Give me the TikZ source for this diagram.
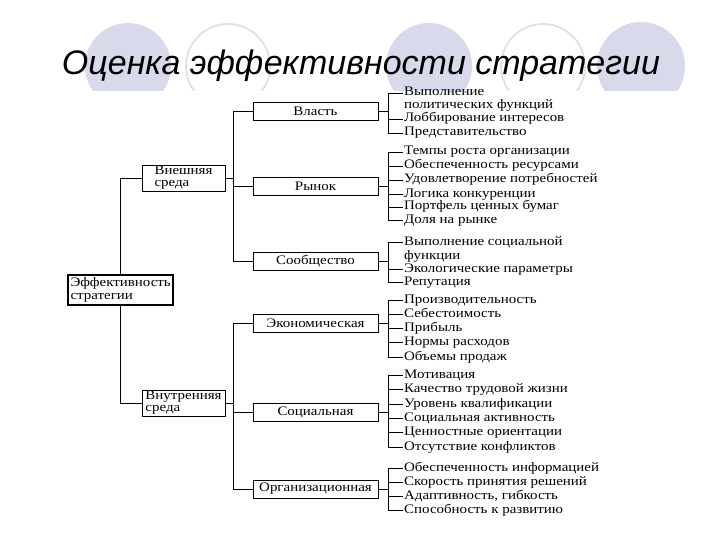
\documentclass[tikz,border=0pt]{standalone}
\usepackage{fontspec}
\setmainfont{Liberation Serif}
\newfontfamily\titlefont{Liberation Sans}
\newfontfamily\diagfont{Liberation Serif}[FakeStretch=1.15]
\usetikzlibrary{positioning}
\definecolor{circlefill}{RGB}{217,217,236}
\definecolor{circleline}{RGB}{222,222,238}

\begin{document}
\begin{tikzpicture}[x=1pt, y=-1pt, inner sep=1pt]
    \tikzstyle{rootbox} = [draw, line width=1.4pt, text width=100pt, align=left, minimum height=30pt, inner sep=2.5pt, font=\diagfont\fontsize{13}{12.5}\selectfont]
    \tikzstyle{sidebox} = [draw, line width=0.8pt, minimum width=83pt, minimum height=26pt, align=left, font=\diagfont\fontsize{13}{12}\selectfont]
    \tikzstyle{midbox}  = [draw, line width=0.8pt, minimum width=125pt, minimum height=18pt, font=\diagfont\fontsize{13}{13}\selectfont]
    \tikzstyle{item}    = [anchor=west, text height=8.5pt, text depth=2.5pt, font=\diagfont\fontsize{13}{13}\selectfont]
    \tikzstyle{link}    = [line width=0.8pt]

    \useasboundingbox (0,0) rectangle (720,540);

    % background circles
    \begin{scope}
        \clip (0,0) rectangle (720,91);
        \fill [circlefill] (128,66) circle (43);
        \draw [circleline, line width=1.8pt] (228,66) circle (42);
        \fill [circlefill] (429,66) circle (43);
        \draw [circleline, line width=1.8pt] (543,66) circle (42);
        \fill [circlefill] (641,66) circle (44);
    \end{scope}

    \node [anchor=base, font=\titlefont\itshape\fontsize{34}{34}\selectfont] (title) at (361,75) {Оценка эффективности стратегии};

    % tree
    \node [rootbox] (root) at (120.5,290) {Эффективность\\стратегии};
    \node [sidebox] (ext) at (183.5,178) {Внешняя\\среда};
    \node [sidebox] (int) at (183.5,403) {Внутренняя\\среда};

    \node [midbox] (vlast) at (315.5,111) {Власть};
    \node [midbox] (rynok) at (315.5,186) {Рынок};
    \node [midbox] (soob)  at (315.5,261) {Сообщество};
    \node [midbox] (econ)  at (315.5,323) {Экономическая};
    \node [midbox] (soc)   at (315.5,412) {Социальная};
    \node [midbox] (org)   at (315.5,489) {Организационная};

    \coordinate (eb) at (233,178);
    \coordinate (ib) at (233,403);
    \coordinate (b1) at (388,111);
    \coordinate (b2) at (388,186);
    \coordinate (b3) at (388,261);
    \coordinate (b4) at (388,323);
    \coordinate (b5) at (388,412);
    \coordinate (b6) at (388,489);

    % criteria
    \node [item] (v1) at (403,93)  {Выполнение};
    \node [item] (v1b) at (403,106) {политических функций};
    \node [item] (v2) at (403,119) {Лоббирование интересов};
    \node [item] (v3) at (403,133) {Представительство};

    \node [item] (r1) at (403,152) {Темпы роста организации};
    \node [item] (r2) at (403,166) {Обеспеченность ресурсами};
    \node [item] (r3) at (403,180) {Удовлетворение потребностей};
    \node [item] (r4) at (403,194) {Логика конкуренции};
    \node [item] (r5) at (403,207) {Портфель ценных бумаг};
    \node [item] (r6) at (403,220) {Доля на рынке};

    \node [item] (s1) at (403,242) {Выполнение социальной};
    \node [item] (s1b) at (403,256) {функции};
    \node [item] (s2) at (403,269) {Экологические параметры};
    \node [item] (s3) at (403,282) {Репутация};

    \node [item] (e1) at (403,300) {Производительность};
    \node [item] (e2) at (403,314) {Себестоимость};
    \node [item] (e3) at (403,328) {Прибыль};
    \node [item] (e4) at (403,342) {Нормы расходов};
    \node [item] (e5) at (403,357) {Объемы продаж};

    \node [item] (c1) at (403,375) {Мотивация};
    \node [item] (c2) at (403,389) {Качество трудовой жизни};
    \node [item] (c3) at (403,404) {Уровень квалификации};
    \node [item] (c4) at (403,418) {Социальная активность};
    \node [item] (c5) at (403,432) {Ценностные ориентации};
    \node [item] (c6) at (403,447) {Отсутствие конфликтов};

    \node [item] (o1) at (403,468) {Обеспеченность информацией};
    \node [item] (o2) at (403,482) {Скорость принятия решений};
    \node [item] (o3) at (403,496) {Адаптивность, гибкость};
    \node [item] (o4) at (403,510) {Способность к развитию};

    % connectors
    \draw [link] (root.north) |- (ext.west);
    \draw [link] (root.south) |- (int.west);

    \draw [link] (ext.east) -- (eb);
    \draw [link] (eb) |- (vlast.west);
    \draw [link] (eb) |- (rynok.west);
    \draw [link] (eb) |- (soob.west);

    \draw [link] (int.east) -- (ib);
    \draw [link] (ib) |- (econ.west);
    \draw [link] (ib) |- (soc.west);
    \draw [link] (ib) |- (org.west);

    \draw [link] (vlast.east) -- (b1);
    \draw [link] (v1.west) -| (b1);
    \draw [link] (v2.west) -| (b1);
    \draw [link] (v3.west) -| (b1);

    \draw [link] (rynok.east) -- (b2);
    \draw [link] (r1.west) -| (b2);
    \draw [link] (r2.west) -| (b2);
    \draw [link] (r3.west) -| (b2);
    \draw [link] (r4.west) -| (b2);
    \draw [link] (r5.west) -| (b2);
    \draw [link] (r6.west) -| (b2);

    \draw [link] (soob.east) -- (b3);
    \draw [link] (s1.west) -| (b3);
    \draw [link] (s2.west) -| (b3);
    \draw [link] (s3.west) -| (b3);

    \draw [link] (econ.east) -- (b4);
    \draw [link] (e1.west) -| (b4);
    \draw [link] (e2.west) -| (b4);
    \draw [link] (e3.west) -| (b4);
    \draw [link] (e4.west) -| (b4);
    \draw [link] (e5.west) -| (b4);

    \draw [link] (soc.east) -- (b5);
    \draw [link] (c1.west) -| (b5);
    \draw [link] (c2.west) -| (b5);
    \draw [link] (c3.west) -| (b5);
    \draw [link] (c4.west) -| (b5);
    \draw [link] (c5.west) -| (b5);
    \draw [link] (c6.west) -| (b5);

    \draw [link] (org.east) -- (b6);
    \draw [link] (o1.west) -| (b6);
    \draw [link] (o2.west) -| (b6);
    \draw [link] (o3.west) -| (b6);
    \draw [link] (o4.west) -| (b6);
\end{tikzpicture}
\end{document}
